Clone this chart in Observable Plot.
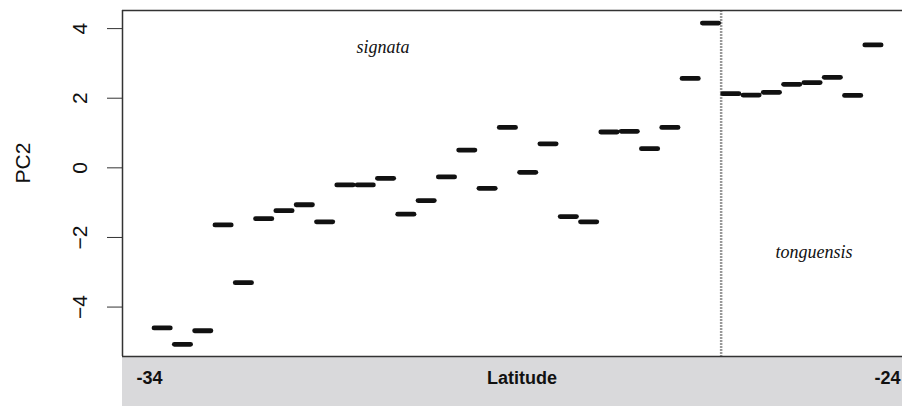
<!DOCTYPE html>
<html><head><meta charset="utf-8">
<script src="https://cdn.jsdelivr.net/npm/d3@7"></script>
<script src="https://cdn.jsdelivr.net/npm/@observablehq/plot@0.6"></script>
<style>body{margin:0;background:#fff} #chart svg{display:block}</style>
</head><body><div id="chart"></div>
<script>
// PC2 scores, ordered by latitude (equally spaced)
const signata = [-4.60, -5.07, -4.68, -1.64, -3.30, -1.46, -1.23, -1.06, -1.55, -0.49, -0.49, -0.30, -1.33, -0.94, -0.26, 0.51, -0.59, 1.16, -0.13, 0.69, -1.40, -1.55, 1.03, 1.05, 0.55, 1.16, 2.57, 4.16];
const tonguensis = [2.13, 2.09, 2.17, 2.40, 2.45, 2.60, 2.08, 3.53];
const yTicks = [-4, -2, 0, 2, 4];
const latLabels = ["-34", "-24"];
const xTitle = "Latitude";
const yTitle = "PC2";
const groupNames = ["signata", "tonguensis"];
const groupLabelX = [11.85, 33.07];
const groupLabelY = [3.46, -2.43];
const xDomain = [-0.977, 37.43];
const yDomain = [-5.42, 4.52];

const points = [
  ...signata.map((v, k) => ({i: k + 1, v})),
  ...tonguensis.map((v, k) => ({i: signata.length + k + 1, v}))
];
const split = signata.length + 0.5;
const groupLabels = groupNames.map((name, k) => ({name, i: groupLabelX[k], v: groupLabelY[k]}));

const chart = Plot.plot({
  width: 902, height: 406,
  marginLeft: 122, marginRight: 0, marginTop: 10, marginBottom: 50,
  style: {fontFamily: "'Liberation Sans', Arial, sans-serif", background: "#fff", overflow: "visible", color: "#111"},
  x: {domain: xDomain, axis: null},
  y: {domain: yDomain, axis: null},
  marks: [
    Plot.ruleX([split], {stroke: "#999", strokeWidth: 2.5, strokeDasharray: "2,1"}),
    Plot.ruleY(points, {y: "v", x1: d => d.i - 0.4, x2: d => d.i + 0.4, stroke: "#111", strokeWidth: 4.8, strokeLinecap: "round"}),
    Plot.ruleX([xDomain[0]], {stroke: "#333", strokeWidth: 1.5}),
    Plot.ruleY(yDomain, {stroke: "#333", strokeWidth: 1.5}),
    Plot.axisY(yTicks, {tickSize: 15, tickRotate: -90, tickPadding: 21, fontSize: 21, stroke: "#333", label: null}),
    Plot.text([yTitle], {text: d => d, frameAnchor: "left", dx: -99, rotate: -90, fontSize: 21}),
    Plot.text(groupLabels, {x: "i", y: "v", text: "name", fontFamily: "'Liberation Serif', serif", fontStyle: "italic", fontSize: 18}),
    Plot.text([latLabels[0]], {text: d => d, frameAnchor: "bottom-left", dx: 14, dy: 27, textAnchor: "start", fontWeight: "bold", fontSize: 18}),
    Plot.text([latLabels[1]], {text: d => d, frameAnchor: "bottom-right", dx: -2, dy: 27, textAnchor: "end", fontWeight: "bold", fontSize: 18}),
    Plot.text([xTitle], {text: d => d, frameAnchor: "bottom", dx: 9.5, dy: 27, fontWeight: "bold", fontSize: 18})
  ]
});

const svg = d3.select(chart);
const xr = chart.scale("x").range;
const yr = chart.scale("y").range;
svg.insert("rect", "g")
  .attr("x", xr[0]).attr("y", yr[0])
  .attr("width", xr[1] - xr[0]).attr("height", 406 - yr[0])
  .attr("fill", "#d9d9db");
document.getElementById("chart").appendChild(chart);
</script>
</body></html>
